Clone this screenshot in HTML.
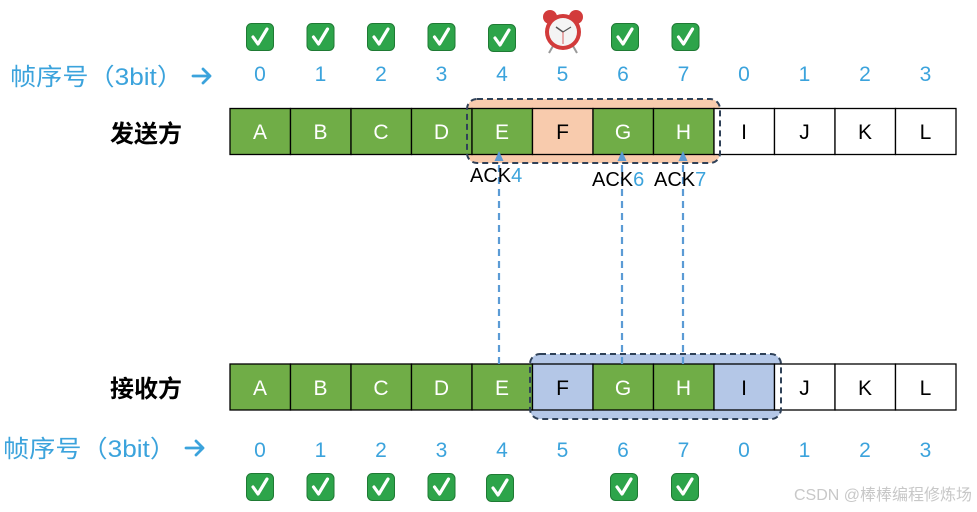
<!DOCTYPE html>
<html><head><meta charset="utf-8"><style>
html,body{margin:0;padding:0;background:#fff;}
svg{display:block;}
text{font-family:"Liberation Sans","Noto Sans CJK SC",sans-serif;}
</style></head><body>
<svg width="977" height="512" viewBox="0 0 977 512" xmlns="http://www.w3.org/2000/svg">
<defs>
<g id="chk">
<rect x="-13.5" y="-13.5" width="27" height="27" rx="5" fill="#2DA44A"/>
<rect x="-13.5" y="-13.5" width="27" height="27" rx="5" fill="none" stroke="#1f7a34" stroke-width="1"/>
<path d="M-7,0 L-2,7 L7,-8" fill="none" stroke="#fff" stroke-width="3.2" stroke-linecap="round" stroke-linejoin="round"/>
</g>
<g id="arr">
<path d="M0,0 L17,0 M10,-7 L17,0 L10,7" fill="none" stroke="#3BA3DC" stroke-width="2.8" stroke-linecap="round" stroke-linejoin="round"/>
</g>
</defs>

<use href="#chk" x="260" y="37"/>
<use href="#chk" x="320.5" y="37"/>
<use href="#chk" x="381" y="37"/>
<use href="#chk" x="441.5" y="37"/>
<use href="#chk" x="502" y="38"/>
<use href="#chk" x="625" y="37"/>
<use href="#chk" x="685.5" y="37"/>
<g transform="translate(563,32)">
<circle cx="-13" cy="-15" r="7" fill="#d23b3b"/>
<circle cx="13" cy="-15" r="7" fill="#d23b3b"/>
<line x1="-10" y1="14" x2="-14" y2="21" stroke="#999" stroke-width="2"/>
<line x1="10" y1="14" x2="14" y2="21" stroke="#999" stroke-width="2"/>
<circle cx="0" cy="0" r="18" fill="#d23b3b"/>
<circle cx="0" cy="0" r="14" fill="#f4f4f4"/>
<line x1="0" y1="0" x2="-7" y2="-5" stroke="#555" stroke-width="1.5"/>
<line x1="0" y1="0" x2="8" y2="-5" stroke="#555" stroke-width="1.2"/>
<line x1="0" y1="0" x2="0" y2="12" stroke="#d23b3b" stroke-width="0.8"/>
</g>

<text x="10" y="85" font-size="24" fill="#3BA3DC" textLength="173" lengthAdjust="spacingAndGlyphs">帧序号（3bit）</text>
<use href="#arr" x="193" y="76"/>
<g font-size="21" fill="#3BA3DC" text-anchor="middle">
<text x="260" y="81">0</text><text x="320.5" y="81">1</text><text x="381" y="81">2</text><text x="441.5" y="81">3</text>
<text x="502" y="81">4</text><text x="562.5" y="81">5</text><text x="623" y="81">6</text><text x="683.5" y="81">7</text>
<text x="744" y="81">0</text><text x="804.5" y="81">1</text><text x="865" y="81">2</text><text x="925.5" y="81">3</text>
</g>

<text x="110" y="142" font-size="24" fill="#000" font-weight="bold">发送方</text>
<text x="110" y="397" font-size="24" fill="#000" font-weight="bold">接收方</text>

<rect x="467" y="99" width="253" height="64" rx="10" fill="#F8CBAD"/>
<g stroke="#000" stroke-width="1.3">
<rect x="230" y="108.5" width="60.5" height="46" fill="#70AD47"/>
<rect x="290.5" y="108.5" width="60.5" height="46" fill="#70AD47"/>
<rect x="351" y="108.5" width="60.5" height="46" fill="#70AD47"/>
<rect x="411.5" y="108.5" width="60.5" height="46" fill="#70AD47"/>
<rect x="472" y="108.5" width="60.5" height="46" fill="#70AD47"/>
<rect x="532.5" y="108.5" width="60.5" height="46" fill="#F8CBAD"/>
<rect x="593" y="108.5" width="60.5" height="46" fill="#70AD47"/>
<rect x="653.5" y="108.5" width="60.5" height="46" fill="#70AD47"/>
<rect x="714" y="108.5" width="60.5" height="46" fill="#fff"/>
<rect x="774.5" y="108.5" width="60.5" height="46" fill="#fff"/>
<rect x="835" y="108.5" width="60.5" height="46" fill="#fff"/>
<rect x="895.5" y="108.5" width="60.5" height="46" fill="#fff"/>
</g>
<rect x="467" y="99" width="253" height="64" rx="10" fill="none" stroke="#2F4158" stroke-width="2" stroke-dasharray="6,4"/>
<g font-size="21" text-anchor="middle">
<text x="260" y="139" fill="#fff">A</text><text x="320.5" y="139" fill="#fff">B</text><text x="381" y="139" fill="#fff">C</text><text x="441.5" y="139" fill="#fff">D</text>
<text x="502" y="139" fill="#fff">E</text><text x="562.5" y="139" fill="#000">F</text><text x="623" y="139" fill="#fff">G</text><text x="683.5" y="139" fill="#fff">H</text>
<text x="744" y="139" fill="#000">I</text><text x="804.5" y="139" fill="#000">J</text><text x="865" y="139" fill="#000">K</text><text x="925.5" y="139" fill="#000">L</text>
</g>

<rect x="530" y="354" width="251" height="65" rx="10" fill="#B4C7E7"/>
<g stroke="#000" stroke-width="1.3">
<rect x="230" y="364" width="60.5" height="46" fill="#70AD47"/>
<rect x="290.5" y="364" width="60.5" height="46" fill="#70AD47"/>
<rect x="351" y="364" width="60.5" height="46" fill="#70AD47"/>
<rect x="411.5" y="364" width="60.5" height="46" fill="#70AD47"/>
<rect x="472" y="364" width="60.5" height="46" fill="#70AD47"/>
<rect x="532.5" y="364" width="60.5" height="46" fill="#B4C7E7"/>
<rect x="593" y="364" width="60.5" height="46" fill="#70AD47"/>
<rect x="653.5" y="364" width="60.5" height="46" fill="#70AD47"/>
<rect x="714" y="364" width="60.5" height="46" fill="#B4C7E7"/>
<rect x="774.5" y="364" width="60.5" height="46" fill="#fff"/>
<rect x="835" y="364" width="60.5" height="46" fill="#fff"/>
<rect x="895.5" y="364" width="60.5" height="46" fill="#fff"/>
</g>
<rect x="530" y="354" width="251" height="65" rx="10" fill="none" stroke="#2F4158" stroke-width="2" stroke-dasharray="6,4"/>
<g font-size="21" text-anchor="middle">
<text x="260" y="395" fill="#fff">A</text><text x="320.5" y="395" fill="#fff">B</text><text x="381" y="395" fill="#fff">C</text><text x="441.5" y="395" fill="#fff">D</text>
<text x="502" y="395" fill="#fff">E</text><text x="562.5" y="395" fill="#000">F</text><text x="623" y="395" fill="#fff">G</text><text x="683.5" y="395" fill="#fff">H</text>
<text x="744" y="395" fill="#000">I</text><text x="804.5" y="395" fill="#000">J</text><text x="865" y="395" fill="#000">K</text><text x="925.5" y="395" fill="#000">L</text>
</g>

<g stroke="#5B9BD5" stroke-width="2.2" stroke-dasharray="7,5" fill="none">
<line x1="499" y1="364" x2="499" y2="160"/>
<line x1="622" y1="364" x2="622" y2="160"/>
<line x1="683" y1="364" x2="683" y2="160"/>
</g>
<g fill="#5B9BD5">
<path d="M499,151 L494.5,161 L503.5,161Z"/>
<path d="M622,151 L617.5,161 L626.5,161Z"/>
<path d="M683,151 L678.5,161 L687.5,161Z"/>
</g>
<g font-size="20">
<text x="470" y="182" fill="#000">ACK<tspan fill="#3BA3DC">4</tspan></text>
<text x="592" y="186" fill="#000">ACK<tspan fill="#3BA3DC">6</tspan></text>
<text x="654" y="186" fill="#000">ACK<tspan fill="#3BA3DC">7</tspan></text>
</g>

<text x="3" y="457" font-size="24" fill="#3BA3DC" textLength="173" lengthAdjust="spacingAndGlyphs">帧序号（3bit）</text>
<use href="#arr" x="186" y="448"/>
<g font-size="21" fill="#3BA3DC" text-anchor="middle">
<text x="260" y="457">0</text><text x="320.5" y="457">1</text><text x="381" y="457">2</text><text x="441.5" y="457">3</text>
<text x="502" y="457">4</text><text x="562.5" y="457">5</text><text x="623" y="457">6</text><text x="683.5" y="457">7</text>
<text x="744" y="457">0</text><text x="804.5" y="457">1</text><text x="865" y="457">2</text><text x="925.5" y="457">3</text>
</g>

<use href="#chk" x="260" y="487"/>
<use href="#chk" x="320.5" y="487"/>
<use href="#chk" x="381" y="487"/>
<use href="#chk" x="441.5" y="487"/>
<use href="#chk" x="500" y="488"/>
<use href="#chk" x="624" y="487"/>
<use href="#chk" x="685" y="487"/>

<text x="972" y="500" font-size="16" fill="#c8c8c8" text-anchor="end">CSDN @棒棒编程修炼场</text>
</svg>
</body></html>
